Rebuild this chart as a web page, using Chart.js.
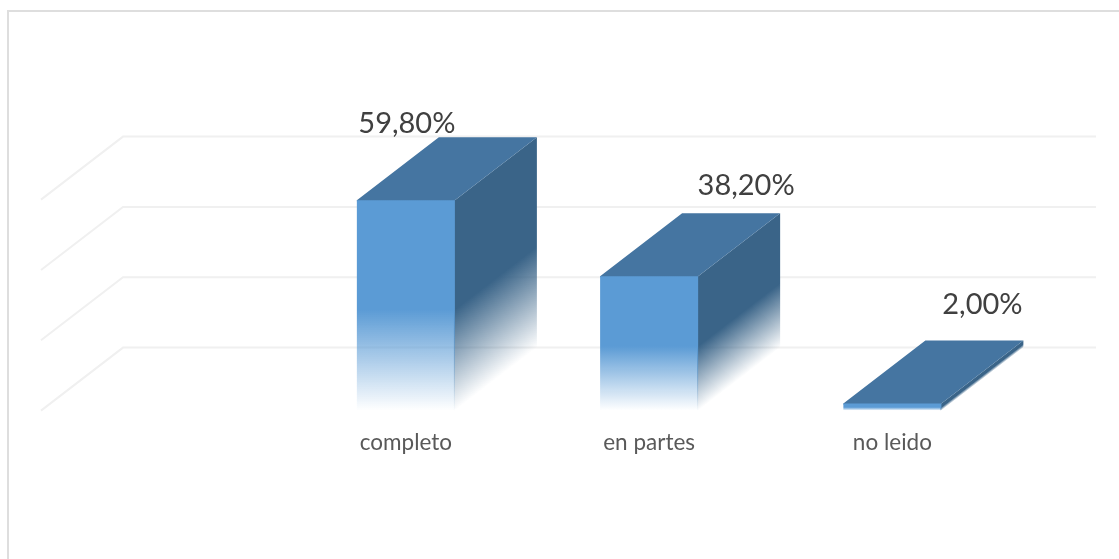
<!DOCTYPE html>
<html>
<head>
<meta charset="utf-8">
<script src="https://cdn.jsdelivr.net/npm/chart.js@4/dist/chart.umd.min.js"></script>
<style>
  html, body { margin: 0; background: #fff; overflow: hidden; }
  #marco { position: absolute; left: 7px; top: 10px; width: 1130px; height: 570px; border: 2px solid #dedede; }
  #grafico { position: absolute; left: 0; top: 0; }
</style>
</head>
<body>
<div id="marco"></div>
<canvas id="grafico" width="1119" height="559"></canvas>
<script>
// first category is empty in the original chart
const categorias = ['', 'completo', 'en partes', 'no leido'];
const valores = [null, 59.8, 38.2, 2];
const yMax = 60;
const yPaso = 20;

// 3d look: depth of the bars and of the floor
const fondoX = 82;
const fondoY = -63;
// the value labels were moved by hand in the original
const desvioEtiqueta = [null, [1, -67], [97, -81], [90, -90]];

function degradado(ctx, x0, y0, x1, y1, rgb) {
  const g = ctx.createLinearGradient(x0, y0, x1, y1);
  g.addColorStop(0, `rgba(${rgb},1)`);
  g.addColorStop(0.52, `rgba(${rgb},1)`);
  g.addColorStop(1, `rgba(${rgb},0)`);
  return g;
}

const caja3d = {
  id: 'caja3d',
  beforeDatasetsDraw(chart) {
    const ctx = chart.ctx;
    const { left, right } = chart.chartArea;
    ctx.save();

    // floor and wall lines
    ctx.strokeStyle = '#f0f0f0';
    ctx.lineWidth = 2;
    chart.scales.y.ticks.forEach(t => {
      const y = chart.scales.y.getPixelForValue(t.value);
      ctx.beginPath();
      ctx.moveTo(left, y);
      ctx.lineTo(left + fondoX, y + fondoY);
      ctx.lineTo(right + fondoX, y + fondoY);
      ctx.stroke();
    });

    chart.getDatasetMeta(0).data.forEach((barra, i) => {
      if (valores[i] === null) return;
      const izq = barra.x - barra.width / 2;
      const der = barra.x + barra.width / 2;

      // side, the fade follows the depth direction
      const largo = Math.hypot(fondoX, fondoY);
      const nx = -fondoY / largo;
      const ny = fondoX / largo;
      const d = (barra.base - barra.y) * ny;
      ctx.fillStyle = degradado(ctx, der, barra.y, der + nx * d, barra.y + ny * d, '58,100,136');
      ctx.beginPath();
      ctx.moveTo(der - 1, barra.y);
      ctx.lineTo(der, barra.y);
      ctx.lineTo(der + fondoX, barra.y + fondoY);
      ctx.lineTo(der + fondoX, barra.base + fondoY);
      ctx.lineTo(der, barra.base);
      ctx.lineTo(der - 1, barra.base);
      ctx.closePath();
      ctx.fill();

      // top, 1px under the front so no seam shows
      ctx.fillStyle = '#4575a1';
      ctx.beginPath();
      ctx.moveTo(izq, barra.y + 1);
      ctx.lineTo(izq, barra.y);
      ctx.lineTo(izq + fondoX, barra.y + fondoY);
      ctx.lineTo(der + fondoX, barra.y + fondoY);
      ctx.lineTo(der, barra.y);
      ctx.lineTo(der, barra.y + 1);
      ctx.closePath();
      ctx.fill();
    });
    ctx.restore();
  },
  afterDatasetsDraw(chart) {
    const ctx = chart.ctx;
    ctx.save();
    ctx.font = '29px Lato';
    ctx.fillStyle = '#404040';
    ctx.textAlign = 'center';
    ctx.textBaseline = 'alphabetic';
    chart.getDatasetMeta(0).data.forEach((barra, i) => {
      if (valores[i] === null) return;
      const texto = valores[i].toFixed(2).replace('.', ',') + '%';
      ctx.fillText(texto, barra.x + desvioEtiqueta[i][0], barra.y + desvioEtiqueta[i][1]);
    });
    ctx.restore();
  }
};

new Chart(document.getElementById('grafico').getContext('2d'), {
  type: 'bar',
  data: {
    labels: categorias,
    datasets: [{
      data: valores,
      barPercentage: 0.403,
      categoryPercentage: 1,
      borderWidth: 0,
      backgroundColor(c) {
        const area = c.chart.chartArea;
        if (!area || c.raw === null || c.raw === undefined) return '#5b9bd5';
        const y = c.chart.scales.y;
        return degradado(c.chart.ctx, 0, y.getPixelForValue(c.raw), 0, y.getPixelForValue(0), '91,155,213');
      }
    }]
  },
  plugins: [caja3d],
  options: {
    responsive: false,
    animation: false,
    layout: { padding: { left: 41, right: 105, top: 199.6, bottom: 0 } },
    plugins: { legend: { display: false }, tooltip: { enabled: false } },
    scales: {
      x: {
        grid: { display: false },
        border: { display: false },
        afterFit(s) { s.height = 148.4; },
        ticks: { padding: 11, color: '#595959', maxRotation: 0, font: { family: 'Lato', size: 22.5 } }
      },
      y: {
        display: false,
        min: 0,
        max: yMax,
        ticks: { stepSize: yPaso }
      }
    }
  }
});
</script>
</body>
</html>
